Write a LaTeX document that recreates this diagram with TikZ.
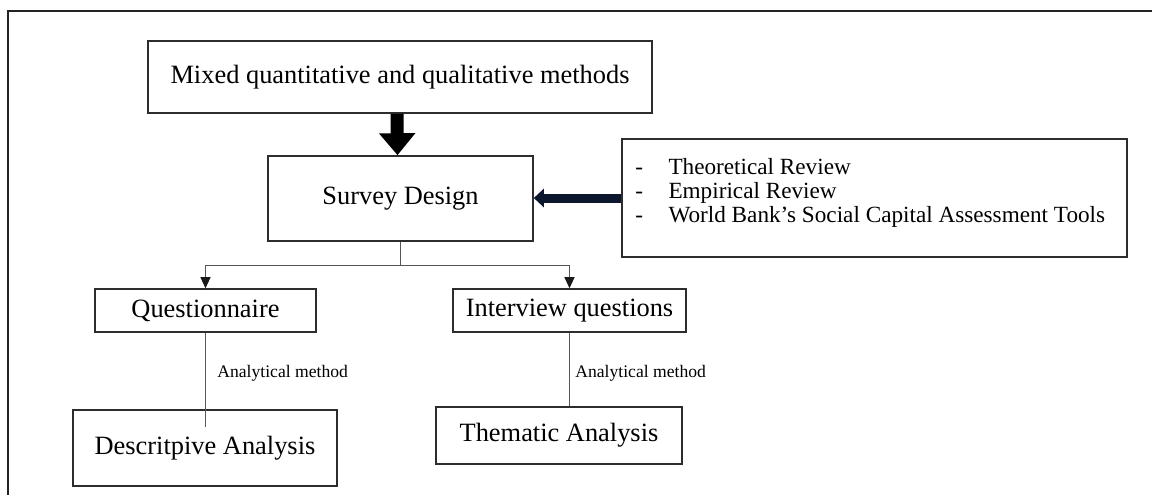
\documentclass[tikz,border=0pt]{standalone}
\usepackage{fontspec}
\setmainfont{Liberation Serif}
\usetikzlibrary{arrows.meta,calc}

\definecolor{framegray}{RGB}{35,35,35}
\definecolor{boxedge}{RGB}{45,45,45}
\definecolor{linkgray}{RGB}{85,85,85}
\definecolor{navyarrow}{RGB}{12,22,45}

\begin{document}
\begin{tikzpicture}[x=0.5pt,y=-0.5pt,
  box/.style={draw=boxedge, line width=0.8pt, fill=white, inner sep=0pt,
              font=\fontsize{13.2}{15.8}\selectfont},
  link/.style={draw=linkgray, line width=0.55pt},
  smalltip/.style={-{Triangle[width=5pt,length=5.5pt,color=black!90]}},
  notelabel/.style={anchor=base west, inner sep=0pt, font=\fontsize{8.8}{10}\selectfont}
]
% page area
\fill[white] (0,0) rectangle (1152,495);
\useasboundingbox (0,0) rectangle (1152,495);

% open page frame (top and left rules)
\draw[framegray, line width=1pt] (1152,11) -- (8,11) -- (8,495);

% boxes
\node[box, minimum width=252pt, minimum height=36pt] (mixed) at (400,77)
  {Mixed quantitative and qualitative methods};
\node[box, minimum width=132.5pt, minimum height=42.5pt] (survey) at (400.5,198.5)
  {Survey Design};
\node[box, minimum width=252.5pt, minimum height=59pt] (sources) at (874.5,198) {};
\node[anchor=base west, inner sep=0pt, font=\fontsize{11.6}{12}\selectfont] (sourcelist) at (635,174)
  {\begin{tabular}[t]{@{}l@{\hspace{12.7pt}}l@{}}
     - & Theoretical Review\\
     - & Empirical Review\\
     - & World Bank’s Social Capital Assessment Tools
   \end{tabular}};

\node[box, minimum width=110.5pt, minimum height=21.5pt] (quest) at (205.5,310.5)
  {Questionnaire};
\node[box, minimum width=116.5pt, minimum height=21.5pt] (interview) at (569.5,310.5)
  {Interview questions};
\node[box, minimum width=132pt, minimum height=38pt] (descr) at (205,448)
  {Descritpive Analysis};
\node[box, minimum width=123pt, minimum height=28.5pt] (thematic) at (559,435.5)
  {Thematic Analysis};

% block arrows
\draw[black, line width=6.5pt, -{Triangle[width=17.5pt,length=11pt]}]
  ([xshift=-1.5pt]mixed.south) -- ([xshift=-1.5pt]survey.north);
\draw[navyarrow, line width=4.5pt, -{Triangle[width=9pt,length=5pt]}]
  (sources.west) -- (survey.east |- sources.west);

% split to the two instruments
\coordinate (split) at ($(survey.south)+(0,24)$);
\draw[link] (survey.south) -- (split);
\draw[link, smalltip] (split) -| (quest.north);
\draw[link, smalltip] (split) -| (interview.north);

% analytical method links
\coordinate (qend) at (205.5,427);
\draw[link] (quest.south) -- (qend);
\draw[link] (interview.south) -- (interview.south |- thematic.north);
\node[notelabel] (qlabel) at (217,377) {Analytical method};
\node[notelabel] (ilabel) at (575,377) {Analytical method};
\end{tikzpicture}
\end{document}
